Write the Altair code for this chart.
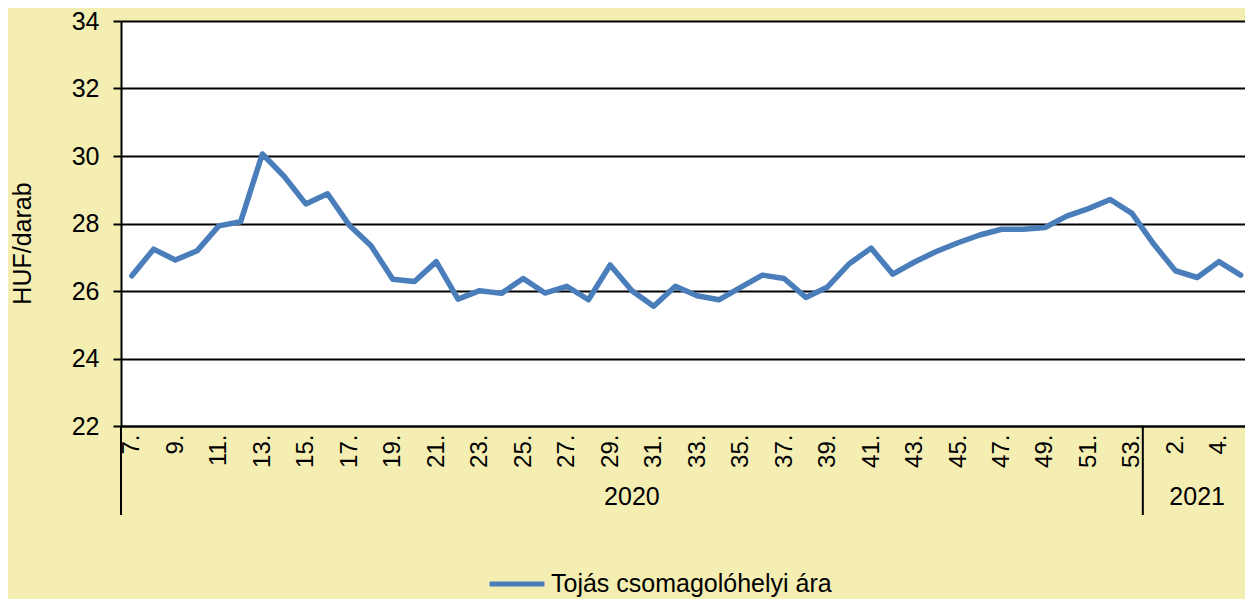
import altair as alt
import pandas as pd

# ---- data ----
week_labels = ["7.", "8.", "9.", "10.", "11.", "12.", "13.", "14.", "15.", "16.",
               "17.", "18.", "19.", "20.", "21.", "22.", "23.", "24.", "25.", "26.",
               "27.", "28.", "29.", "30.", "31.", "32.", "33.", "34.", "35.", "36.",
               "37.", "38.", "39.", "40.", "41.", "42.", "43.", "44.", "45.", "46.",
               "47.", "48.", "49.", "50.", "51.", "52.", "53.",
               "1.", "2.", "3.", "4.", "5."]
shown_labels = ["7.", "9.", "11.", "13.", "15.", "17.", "19.", "21.", "23.", "25.",
                "27.", "29.", "31.", "33.", "35.", "37.", "39.", "41.", "43.", "45.",
                "47.", "49.", "51.", "53.", "2.", "4."]
prices = [26.45, 27.24, 26.92, 27.19, 27.93, 28.05, 30.06, 29.40, 28.58, 28.88,
          27.95, 27.34, 26.35, 26.28, 26.87, 25.76, 26.01, 25.93, 26.37, 25.94,
          26.14, 25.74, 26.77, 26.01, 25.55, 26.14, 25.86, 25.74, 26.11, 26.47,
          26.37, 25.81, 26.12, 26.81, 27.27, 26.50, 26.86, 27.17, 27.43, 27.66,
          27.83, 27.83, 27.88, 28.22, 28.44, 28.71, 28.30,
          27.39, 26.60, 26.40, 26.87, 26.47]
year_names = ["2020", "2021"]
year_sizes = [47, 5]
series_name = "Tojás csomagolóhelyi ára"
y_ticks = [22, 24, 26, 28, 30, 32, 34]

# ---- tables ----
df = pd.DataFrame({
    "pos": [i + 0.5 for i in range(len(week_labels))],
    "week": week_labels,
    "price": prices,
    "series": series_name,
})

starts, ends, acc = [], [], 0
for s in year_sizes:
    starts.append(acc)
    acc += s
    ends.append(acc)
ydf = pd.DataFrame({
    "year": year_names,
    "start": starts,
    "mid": [(a + b) / 2 for a, b in zip(starts, ends)],
})

n = len(week_labels)
label_arr = "[" + ",".join("'" + w + "'" for w in week_labels) + "]"
label_expr = label_arr + "[floor(datum.value)]"
tick_pos = [week_labels.index(w) + 0.5 for w in shown_labels]

FONT = "Liberation Sans"
PAD_L, PAD_T = 113, 13
W, H = 1124, 405
TOTAL_W, TOTAL_H = 1237, 591

# the reference's plot runs past the right edge of the picture
xscale = alt.Scale(domain=[0, n - 0.3], nice=False, zero=False)

line = alt.Chart(df).mark_line(
    strokeWidth=5.5, strokeCap="round", strokeJoin="round"
).encode(
    x=alt.X("pos:Q", scale=xscale,
            axis=alt.Axis(values=tick_pos, labelExpr=label_expr, labelAngle=-90,
                          labelFontSize=24, labelColor="black", labelPadding=8,
                          ticks=False, grid=False, domainColor="black",
                          domainWidth=2, title=None, labelFont=FONT,
                          labelOverlap=False, labelBound=False, labelFlush=False)),
    y=alt.Y("price:Q", scale=alt.Scale(domain=[22, 34], nice=False, zero=False),
            axis=alt.Axis(values=y_ticks, grid=True, gridColor="black", gridWidth=2,
                          gridOpacity=1, domainColor="black", domainWidth=2,
                          tickColor="black", tickWidth=2, tickSize=8,
                          labelFontSize=25, labelColor="black", labelPadding=14,
                          labelFont=FONT,
                          title="HUF/darab", titleFontSize=25, titleFontWeight="normal",
                          titleColor="black", titleFont=FONT,
                          titleX=-99, titleY=222, titleBaseline="middle",
                          titleAlign="center", titleAngle=-90)),
    color=alt.Color("series:N",
                    scale=alt.Scale(range=["#4A7EBB"]),
                    legend=alt.Legend(orient="none", legendX=366, legendY=533,
                                      title=None, symbolType="stroke",
                                      symbolStrokeWidth=5, symbolSize=3025,
                                      labelFontSize=25, labelColor="black",
                                      labelFont=FONT, labelLimit=600)),
)

seps = alt.Chart(ydf).mark_rule(color="black", strokeWidth=2).encode(
    x=alt.X("start:Q", scale=xscale),
    y=alt.value(H),
    y2=alt.value(494),
)

year_text = alt.Chart(ydf).mark_text(
    fontSize=25, font=FONT, color="black", baseline="middle", align="center"
).encode(
    x=alt.X("mid:Q", scale=xscale),
    y=alt.value(476),
    text="year:N",
)

chart = alt.layer(line, seps, year_text).properties(
    width=W, height=H,
    autosize=alt.AutoSizeParams(type="none"),
    padding={"left": PAD_L, "top": PAD_T, "right": TOTAL_W - PAD_L - W,
             "bottom": TOTAL_H - PAD_T - H},
    background="#F4EEB3",
).configure(font=FONT).configure_view(
    fill="white", stroke="transparent"
)

chart.save("out.html", embed_options={"renderer": "svg", "actions": False})
